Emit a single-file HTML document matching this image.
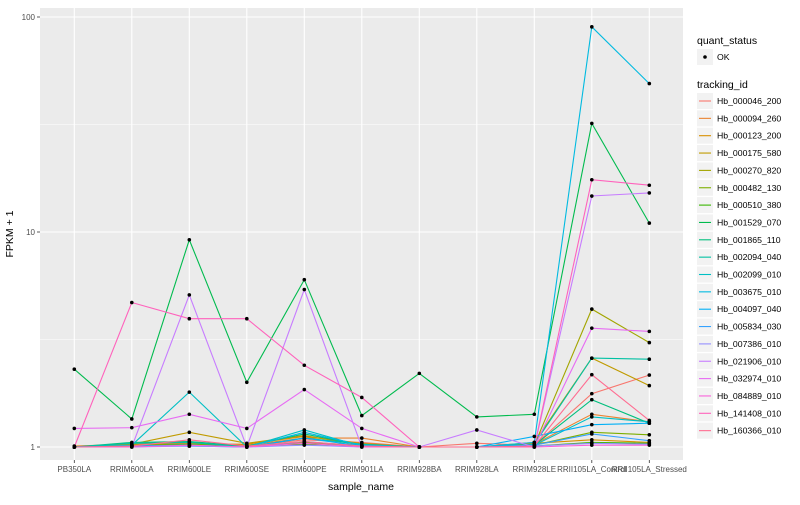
<!DOCTYPE html>
<html><head><meta charset="utf-8"><style>
body{margin:0;background:#fff;font-family:"Liberation Sans",sans-serif;}
svg text{font-family:"Liberation Sans",sans-serif;}
</style></head><body>
<svg id="chart" width="800" height="500" xmlns="http://www.w3.org/2000/svg">
<rect x="0" y="0" width="800" height="500" fill="#fff"/>
<rect x="40" y="8" width="643" height="452" fill="#EBEBEB"/>
<g id="grid"></g>
<g id="series"></g>
<g id="axes"></g>
<text x="13" y="234" transform="rotate(-90 13 234)" text-anchor="middle" font-size="10.5" fill="#000">FPKM + 1</text>
<text x="361" y="490" text-anchor="middle" font-size="10.5" fill="#000">sample_name</text>
<g id="legend"></g>
</svg>
<script>
const categories=["PB350LA","RRIM600LA","RRIM600LE","RRIM600SE","RRIM600PE","RRIM901LA","RRIM928BA","RRIM928LA","RRIM928LE","RRII105LA_Control","RRII105LA_Stressed"];
const seriesNames=["Hb_000046_200","Hb_000094_260","Hb_000123_200","Hb_000175_580","Hb_000270_820","Hb_000482_130","Hb_000510_380","Hb_001529_070","Hb_001865_110","Hb_002094_040","Hb_002099_010","Hb_003675_010","Hb_004097_040","Hb_005834_030","Hb_007386_010","Hb_021906_010","Hb_032974_010","Hb_084889_010","Hb_141408_010","Hb_160366_010"];
const s0=[1,1.02,1.05,1.01,1.08,1.05,1.0,1.04,1.02,1.77,2.16];
const s1=[1.01,1.03,1.04,1.02,1.1,1.1,1.0,1.0,1.03,1.42,1.31];
const s2=[1,1.02,1.03,1.03,1.12,1.04,1,1,1.04,1.08,1.05];
const s3=[1,1.03,1.17,1.04,1.13,1.02,1,1,1.05,2.59,1.93];
const s4=[1,1.01,1.02,1.01,1.05,1.01,1,1,1.02,4.38,3.06];
const s5=[1,1.02,1.03,1.01,1.05,1.02,1,1,1.02,1.17,1.14];
const s6=[1,1.01,1.02,1.01,1.03,1.01,1,1,1.01,1.05,1.04];
const s7=[2.3,1.35,9.2,2.0,6.0,1.4,2.2,1.38,1.42,32,11];
const s8=[1,1.05,1.06,1.01,1.15,1.02,1,1,1.02,1.66,1.29];
const s9=[1,1.04,1.05,1.0,1.1,1.03,1,1,1.03,2.59,2.56];
const s10=[1,1.02,1.8,1.0,1.2,1.01,1,1,1.02,1.38,1.31];
const s11=[1,1.01,1.02,1.0,1.17,1.02,1,1,1.05,90,49];
const s12=[1,1.01,1.01,1.0,1.1,1.01,1,1,1.12,1.27,1.29];
const s13=[1,1.01,1.02,1,1.06,1.01,1,1,1.02,1.15,1.07];
const s14=[1,1.0,1.01,1,1.02,1,1,1,1.01,1.04,1.03];
const s15=[1,1,5.1,1,5.4,1,1,1.2,1,14.7,15.2];
const s16=[1.22,1.23,1.42,1.22,1.85,1.22,1,1,1,3.57,3.45];
const s17=[1,1.0,1.02,1.0,1.04,1,1,1,1,1.02,1.02];
const s18=[1,4.7,3.95,3.95,2.4,1.7,1,1,1,17.5,16.5];
const s19=[1,1.01,1.08,1.01,1.06,1.01,1,1,1.01,2.17,1.33];
const seriesValues=[s0,s1,s2,s3,s4,s5,s6,s7,s8,s9,s10,s11,s12,s13,s14,s15,s16,s17,s18,s19];
const colors=["#F8766D","#EA8331","#D89000","#C09B00","#A3A500","#7CAE00","#39B600","#00BB4E","#00BF7D","#00C1A3","#00BFC4","#00BAE0","#00B0F6","#35A2FF","#9590FF","#C77CFF","#E76BF3","#FA62DB","#FF62BC","#FF6C91"];
const yTicks=[1,10,100];
const yMinor=[3.162,31.62];

const NS="http://www.w3.org/2000/svg";
function xs(i){return 74.3+i*57.5;}
function ys(v){return 447-215*Math.log10(v);}
function mk(tag,attrs,parent){const e=document.createElementNS(NS,tag);for(const k in attrs)e.setAttribute(k,attrs[k]);parent.appendChild(e);return e;}
const grid=document.getElementById('grid'),ser=document.getElementById('series'),axes=document.getElementById('axes'),leg=document.getElementById('legend');
yMinor.forEach(v=>{const l=mk('line',{x1:40,x2:683,y1:ys(v),y2:ys(v),stroke:'#fff','stroke-width':0.5},grid);

});
yTicks.forEach(v=>{const l=mk('line',{x1:40,x2:683,y1:ys(v),y2:ys(v),stroke:'#fff','stroke-width':1.1},grid);


const t=mk('text',{x:35,y:ys(v)+3,'text-anchor':'end','font-size':8,fill:'#4D4D4D'},axes);t.textContent=v;


mk('line',{x1:37,x2:40,y1:ys(v),y2:ys(v),stroke:'#333','stroke-width':0.8},axes);});
categories.forEach((c,i)=>{const l=mk('line',{x1:xs(i),x2:xs(i),y1:8,y2:460,stroke:'#fff','stroke-width':1.1},grid);


mk('line',{x1:xs(i),x2:xs(i),y1:460,y2:463,stroke:'#333','stroke-width':0.8},axes);
const t=mk('text',{x:xs(i),y:472,'text-anchor':'middle','font-size':8,fill:'#4D4D4D'},axes);t.textContent=c;

});
seriesValues.forEach((vals,si)=>{const d=vals.map((v,i)=>(i?'L':'M')+xs(i).toFixed(1)+','+ys(v).toFixed(1)).join('');
const p=mk('path',{d:d,fill:'none',stroke:colors[si],'stroke-width':1.1},ser);

});
seriesValues.forEach(vals=>{vals.forEach((v,i)=>{const c=mk('circle',{cx:xs(i),cy:ys(v),r:1.8,fill:'#000'},ser);

});});
// legend
let t=mk('text',{x:697,y:44,'font-size':10.5,fill:'#000'},leg);t.textContent='quant_status';


mk('rect',{x:697,y:49,width:16,height:16,fill:'#F2F2F2'},leg);
mk('circle',{cx:705,cy:57,r:1.8,fill:'#000'},leg);
t=mk('text',{x:717,y:60,'font-size':8.7,fill:'#000'},leg);t.textContent='OK';


t=mk('text',{x:697,y:88,'font-size':10.5,fill:'#000'},leg);t.textContent='tracking_id';


seriesNames.forEach((n,i)=>{const y=101+i*17.35;
mk('rect',{x:697,y:y-8,width:16,height:16,fill:'#F2F2F2'},leg);
mk('line',{x1:699,x2:711,y1:y,y2:y,stroke:colors[i],'stroke-width':1.1},leg);
const tt=mk('text',{x:717,y:y+3,'font-size':8.7,fill:'#000'},leg);tt.textContent=n;

});
</script>
</body></html>
